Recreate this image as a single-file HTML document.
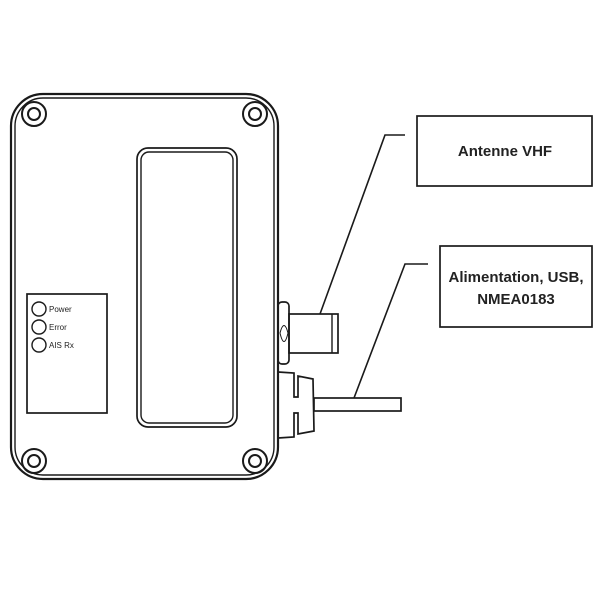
<!DOCTYPE html>
<html><head><style>body{margin:0;background:#fff}svg{display:block}</style></head>
<body>
<svg width="600" height="600" viewBox="0 0 600 600" xmlns="http://www.w3.org/2000/svg" font-family="Liberation Sans, sans-serif">
<g fill="none" stroke="#1a1a1a">
<rect x="11" y="94" width="267" height="385" rx="32" stroke-width="2.2"/>
<rect x="15" y="98" width="259" height="377" rx="28" stroke-width="1.4"/>
<g stroke-width="2">
<circle cx="34" cy="114" r="12"/><circle cx="34" cy="114" r="6"/>
<circle cx="255" cy="114" r="12"/><circle cx="255" cy="114" r="6"/>
<circle cx="34" cy="461" r="12"/><circle cx="34" cy="461" r="6"/>
<circle cx="255" cy="461" r="12"/><circle cx="255" cy="461" r="6"/>
</g>
<rect x="137" y="148" width="100" height="279" rx="11" stroke-width="1.7"/>
<rect x="141" y="152" width="92" height="271" rx="8" stroke-width="1.4"/>
<rect x="27" y="294" width="80" height="119" stroke-width="1.7"/>
<g stroke-width="1.4"><circle cx="39" cy="309" r="7"/><circle cx="39" cy="327" r="7"/><circle cx="39" cy="345" r="7"/></g>
<rect x="278" y="302" width="11" height="62" rx="4" stroke-width="1.7"/>
<path d="M280 333 Q284 318 288 333 M280 333 Q284 350 288 333" stroke-width="1"/>
<rect x="289" y="314" width="49" height="39" stroke-width="1.7"/>
<line x1="332" y1="314" x2="332" y2="353" stroke-width="1.4"/>
<path d="M278 372 L294 373 L294 397 L298 397 L298 376 L313 379 L314 431 L298 434 L298 413 L294 413 L294 437 L278 438" stroke-width="1.7"/>
<rect x="314" y="398" width="87" height="13" stroke-width="1.7"/>
<polyline points="320,314 385,135 405,135" stroke-width="1.6"/>
<polyline points="354,398 405,264 428,264" stroke-width="1.6"/>
<rect x="417" y="116" width="175" height="70" stroke-width="1.7"/>
<rect x="440" y="246" width="152" height="81" stroke-width="1.7"/>
</g>
<g font-size="8" fill="#222">
<text x="49" y="312">Power</text><text x="49" y="330">Error</text><text x="49" y="348">AIS Rx</text>
</g>
<g font-size="15" font-weight="bold" fill="#222" text-anchor="middle">
<text x="505" y="156">Antenne VHF</text>
<text x="516" y="282">Alimentation, USB,</text>
<text x="516" y="304">NMEA0183</text>
</g>
</svg>
</body></html>
